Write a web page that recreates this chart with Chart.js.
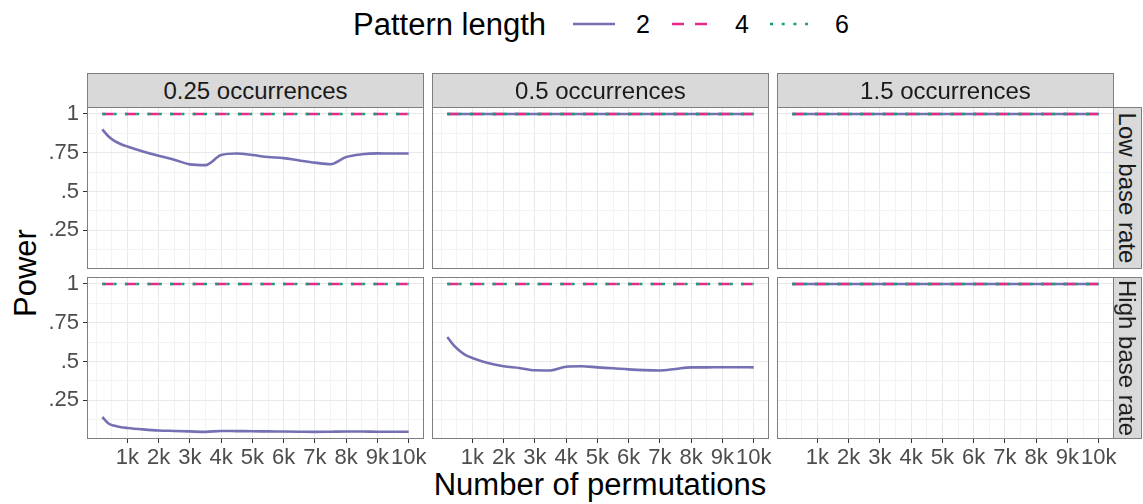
<!DOCTYPE html>
<html>
<head>
<meta charset="utf-8">
<script src="https://cdn.jsdelivr.net/npm/chart.js@4.4.0/dist/chart.umd.min.js"></script>
<style>
  html, body { margin: 0; padding: 0; background: #fff; }
  body { width: 1143px; height: 504px; position: relative; overflow: hidden; font-family: "Liberation Sans", Arial, sans-serif; }
  canvas { position: absolute; }
  .txt { position: absolute; line-height: 1; white-space: nowrap; color: #000; }
  .strip { position: absolute; box-sizing: border-box; background: #d9d9d9; border: 1px solid #7f7f7f;
           display: flex; align-items: center; justify-content: center; color: #1a1a1a; font-size: 24px; }
  .strip span { white-space: nowrap; }
</style>
</head>
<body>

<!-- legende -->
<div class="txt" style="left:353px; top:9px; font-size:31px;">Pattern length</div>
<svg style="position:absolute; left:565px; top:14px;" width="300" height="20">
  <line x1="8" y1="10" x2="50" y2="10" stroke="#7570B3" stroke-width="2.6"/>
  <line x1="107" y1="10" x2="142" y2="10" stroke="#E7298A" stroke-width="2.6" stroke-dasharray="12 11"/>
  <line x1="205" y1="10" x2="243" y2="10" stroke="#1B9E77" stroke-width="2.6" stroke-dasharray="3 8.7"/>
</svg>
<div class="txt" style="left:636px; top:12px; font-size:25px;">2</div>
<div class="txt" style="left:735px; top:12px; font-size:25px;">4</div>
<div class="txt" style="left:835px; top:12px; font-size:25px;">6</div>

<!-- titres des axes -->
<div class="txt" style="left:600px; top:469px; font-size:31px; transform:translateX(-50%);">Number of permutations</div>
<div class="txt" style="left:25px; top:273px; font-size:31px; transform:translate(-50%,-50%) rotate(-90deg);">Power</div>

<div id="panels"></div>

<script>
// Données
const permutations = [200, 400, 600, 800, 1000, 1500, 2000, 2500, 3000, 3500, 4000, 4500,
                      5000, 5500, 6000, 6500, 7000, 7500, 8000, 8500, 9000, 9500, 10000];

const occurrenceLabels = ['0.25 occurrences', '0.5 occurrences', '1.5 occurrences'];
const baseRateLabels = ['Low base rate', 'High base rate'];
const patternLengths = ['2', '4', '6'];

const xBreaks = [1000, 2000, 3000, 4000, 5000, 6000, 7000, 8000, 9000, 10000];
const xTickLabels = ['1k', '2k', '3k', '4k', '5k', '6k', '7k', '8k', '9k', '10k'];
const xMinorBreaks = [0, 500, 1500, 2500, 3500, 4500, 5500, 6500, 7500, 8500, 9500];
const yBreaks = [0.25, 0.5, 0.75, 1];
const yTickLabels = ['.25', '.5', '.75', '1'];
const yMinorBreaks = [0.125, 0.375, 0.625, 0.875];

// puissance, longueur de motif 2
const lowRate025 = [0.900, 0.855, 0.825, 0.805, 0.790, 0.758, 0.730, 0.705, 0.675, 0.670, 0.735, 0.745,
                    0.735, 0.722, 0.715, 0.700, 0.686, 0.676, 0.722, 0.740, 0.746, 0.745, 0.745];
const lowRate05  = [1, 1, 1, 1, 1, 1, 1, 1, 1, 1, 1, 1, 1, 1, 1, 1, 1, 1, 1, 1, 1, 1, 1];
const lowRate15  = [1, 1, 1, 1, 1, 1, 1, 1, 1, 1, 1, 1, 1, 1, 1, 1, 1, 1, 1, 1, 1, 1, 1];
const highRate025 = [0.142, 0.100, 0.085, 0.076, 0.071, 0.062, 0.055, 0.052, 0.049, 0.046, 0.052, 0.051,
                     0.050, 0.049, 0.048, 0.047, 0.046, 0.047, 0.048, 0.048, 0.047, 0.047, 0.047];
const highRate05  = [0.658, 0.605, 0.568, 0.540, 0.523, 0.490, 0.469, 0.458, 0.443, 0.442, 0.466, 0.469,
                     0.462, 0.456, 0.449, 0.444, 0.442, 0.452, 0.462, 0.462, 0.463, 0.463, 0.462];
const highRate15  = [1, 1, 1, 1, 1, 1, 1, 1, 1, 1, 1, 1, 1, 1, 1, 1, 1, 1, 1, 1, 1, 1, 1];
// longueurs 4 et 6 : toujours 1
const alwaysOne   = [1, 1, 1, 1, 1, 1, 1, 1, 1, 1, 1, 1, 1, 1, 1, 1, 1, 1, 1, 1, 1, 1, 1];

const len2Series = [[lowRate025, lowRate05, lowRate15], [highRate025, highRate05, highRate15]];

const colors = { '2': '#7570B3', '4': '#E7298A', '6': '#1B9E77' };

// Mise en page des panneaux
const colLeft = [87, 432, 777];
const rowTop = [107, 277];
const panelW = 337;
const panelH = 162;
const yAxisW = 87;
const xAxisH = 40;
const margin = 24; // marge pour que Chart.js ne décale pas la zone de tracé

const panelBorder = {
    id: 'panelBorder',
    afterDraw(chart) {
        const { left, top, right, bottom } = chart.chartArea;
        const ctx = chart.ctx;
        ctx.save();
        ctx.strokeStyle = '#7f7f7f';
        ctx.lineWidth = 1;
        ctx.strokeRect(left + 0.5, top + 0.5, right - left - 1, bottom - top - 1);
        ctx.restore();
    }
};

function isMajor(list, v) {
    return list.some(b => Math.abs(b - v) < 1e-9);
}

function makePanel(row, col) {
    const showY = col === 0;
    const showX = row === 1;
    const leftPad = showY ? yAxisW : 0;
    const bottomPad = showX ? xAxisH : 0;

    const canvas = document.createElement('canvas');
    canvas.width = panelW + leftPad + 2 * margin;
    canvas.height = panelH + bottomPad + 2 * margin;
    canvas.style.left = (colLeft[col] - leftPad - margin) + 'px';
    canvas.style.top = (rowTop[row] - margin) + 'px';
    document.getElementById('panels').appendChild(canvas);

    const lineStyle = {
        '2': { dash: [], order: 3 },
        '4': { dash: [11.3, 11.3], order: 2 },
        '6': { dash: [3, 8.3], order: 1 }
    };
    const values = { '2': len2Series[row][col], '4': alwaysOne, '6': alwaysOne };

    const datasets = patternLengths.map(p => ({
        label: p,
        data: permutations.map((x, i) => ({ x: x, y: values[p][i] })),
        borderColor: colors[p],
        borderWidth: p === '2' ? 2.6 : 2.4,
        borderDash: lineStyle[p].dash,
        order: lineStyle[p].order,
        pointRadius: 0,
        cubicInterpolationMode: 'monotone',
        fill: false
    }));

    new Chart(canvas, {
        type: 'line',
        data: { datasets },
        options: {
            responsive: false,
            animation: false,
            devicePixelRatio: 1,
            layout: { padding: margin },
            plugins: { legend: { display: false }, tooltip: { enabled: false } },
            scales: {
                x: {
                    type: 'linear',
                    min: -290,
                    max: 10490,
                    afterBuildTicks: s => {
                        s.ticks = [...xMinorBreaks, ...xBreaks].sort((a, b) => a - b).map(v => ({ value: v }));
                    },
                    afterFit: s => { s.height = bottomPad; },
                    border: { display: false },
                    grid: {
                        color: c => isMajor(xBreaks, c.tick.value) ? '#e9e9e9' : '#f3f3f3',
                        lineWidth: 1,
                        drawTicks: showX,
                        tickLength: 4,
                        tickColor: c => isMajor(xBreaks, c.tick.value) ? '#333333' : 'rgba(0,0,0,0)'
                    },
                    ticks: {
                        display: showX,
                        autoSkip: false,
                        maxRotation: 0,
                        padding: 2,
                        color: '#4d4d4d',
                        font: { family: 'Liberation Sans', size: 22 },
                        callback: v => {
                            const i = xBreaks.indexOf(v);
                            return i >= 0 ? xTickLabels[i] : '';
                        }
                    }
                },
                y: {
                    type: 'linear',
                    min: 0,
                    max: 1.045,
                    afterBuildTicks: s => {
                        s.ticks = [...yMinorBreaks, ...yBreaks].sort((a, b) => a - b).map(v => ({ value: v }));
                    },
                    afterFit: s => { s.width = leftPad; },
                    border: { display: false },
                    grid: {
                        color: c => isMajor(yBreaks, c.tick.value) ? '#e9e9e9' : '#f3f3f3',
                        lineWidth: 1,
                        drawTicks: showY,
                        tickLength: 4,
                        tickColor: c => isMajor(yBreaks, c.tick.value) ? '#333333' : 'rgba(0,0,0,0)'
                    },
                    ticks: {
                        display: showY,
                        autoSkip: false,
                        padding: 4,
                        color: '#4d4d4d',
                        font: { family: 'Liberation Sans', size: 22 },
                        callback: v => {
                            const i = yBreaks.findIndex(b => Math.abs(b - v) < 1e-9);
                            return i >= 0 ? yTickLabels[i] : '';
                        }
                    }
                }
            }
        },
        plugins: [panelBorder]
    });
}

function addStrip(left, top, width, height, text, vertical) {
    const d = document.createElement('div');
    d.className = 'strip';
    d.style.left = left + 'px';
    d.style.top = top + 'px';
    d.style.width = width + 'px';
    d.style.height = height + 'px';
    const s = document.createElement('span');
    s.textContent = text;
    if (vertical) s.style.transform = 'rotate(90deg)';
    d.appendChild(s);
    document.body.appendChild(d);
}

for (let r = 0; r < 2; r++) {
    for (let c = 0; c < 3; c++) makePanel(r, c);
}
occurrenceLabels.forEach((t, c) => addStrip(colLeft[c], 73, panelW, 35, t, false));
baseRateLabels.forEach((t, r) => addStrip(colLeft[2] + panelW - 1, rowTop[r], 29, panelH, t, true));
</script>
</body>
</html>
